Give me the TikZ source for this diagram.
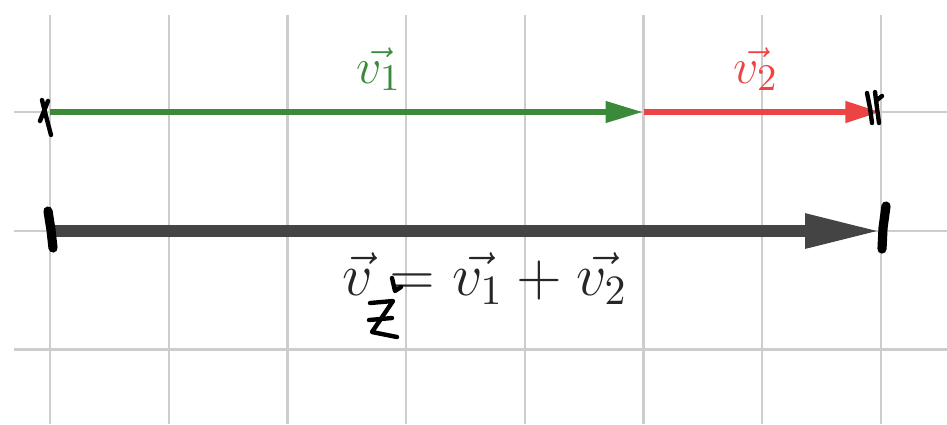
\documentclass[tikz,border=0pt]{standalone}
\usetikzlibrary{arrows.meta}
\definecolor{vgreen}{RGB}{58,138,58}
\definecolor{vred}{RGB}{236,68,68}
\definecolor{vgray}{RGB}{68,68,68}
\definecolor{gridgray}{RGB}{205,205,205}
\begin{document}
\begin{tikzpicture}[x=0.008425cm,y=-0.008425cm,
  gridline/.style={draw=gridgray,line width=0.55pt},
  greenvec/.style={draw=vgreen,line width=1.6pt,-{Triangle[length=0.32cm,width=0.17cm]}},
  redvec/.style={draw=vred,line width=1.6pt,-{Triangle[length=0.30cm,width=0.17cm]}},
  sumvec/.style={draw=vgray,line width=2.8pt,-{Triangle[length=0.64cm,width=0.27cm]}},
  pen/.style={draw=black,line width=1.05pt,line cap=round,line join=round},
  fatpen/.style={draw=black,line width=2.2pt,line cap=round}]
\useasboundingbox (0,0) rectangle (947,424);
% grid
\foreach \i in {0,...,7}{
  \draw[gridline] ({50+118.7*\i},15) -- ({50+118.7*\i},424);
}
\foreach \j in {0,1,2}{
  \draw[gridline] (14,{112+118.7*\j}) -- (947,{112+118.7*\j});
}
% points
\coordinate (a0) at (50,112);
\coordinate (a1) at (643.5,112);
\coordinate (a2) at (881,112);
\coordinate (b0) at (50,231);
\coordinate (b1) at (881,231);
% vectors
\draw[greenvec] (a0) -- (a1);
\draw[redvec] (a1) -- (a2);
\draw[sumvec] (b0) -- (b1);
% labels
\node[anchor=base,text=vgreen,font=\fontsize{12.6}{15}\selectfont,inner sep=0pt] (l1) at (379,83) {$\vec{v_1}$};
\node[anchor=base,text=vred,font=\fontsize{12.6}{15}\selectfont,inner sep=0pt] (l2) at (756,83) {$\vec{v_2}$};
\node[anchor=base,text=black!85,font=\fontsize{13.9}{17}\selectfont,inner sep=0pt] (eq) at (485,295) {$\vec{v} = \vec{v_1} + \vec{v_2}$};
% handwritten marks
\draw[pen] (42,100) -- (46,116) -- (51,135);
\draw[pen] (48,101) -- (40,121);
\draw[fatpen] (48,211) -- (51,230) -- (53,248);
\draw[pen] (867,93) -- (870,108) -- (872,123);
\draw[pen] (875,92) -- (877,108) -- (879,123);
\draw[pen] (877,100) -- (882,96);
\draw[fatpen] (886,206) -- (883,228) -- (882,249);
\draw[pen] (370,303) -- (393,301) -- (372,332) -- (397,337);
\draw[pen] (369,320) -- (392,318);
\draw[pen] (392,278) -- (395,291) -- (401,287);
\end{tikzpicture}
\end{document}
